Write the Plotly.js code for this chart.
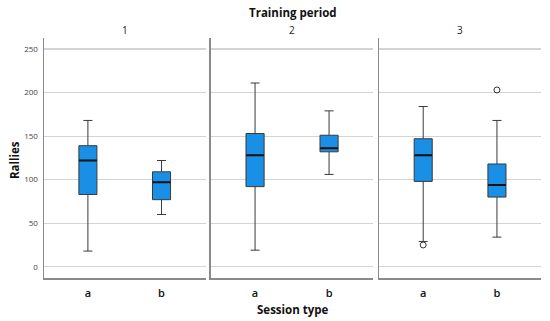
<!DOCTYPE html>
<html>
<head>
<meta charset="utf-8">
<script src="https://cdn.plot.ly/plotly-3.0.1.min.js"></script>
<style>html,body{margin:0;padding:0;background:#fff;}#chart{width:550px;height:321px;}</style>
</head>
<body>
<div id="chart"></div>
<script>
// ---- data ----
const periods = ['1', '2', '3'];
const sessions = ['a', 'b'];
const lowerFence = [[18, 60], [19, 106], [29, 34]];
const q1 = [[83, 77], [92, 132], [98, 80]];
const median = [[122, 97], [128, 136], [128, 94]];
const q3 = [[139, 109], [153, 151], [147, 118]];
const upperFence = [[168, 122], [211, 179], [184, 168]];
const outlierPeriod = ['3', '3'];
const outlierSession = ['a', 'b'];
const outlierValue = [25, 203];

// ---- styles ----
const FONT = 'Open Sans, Noto Sans, sans-serif';
const BOX_FILL = '#1a8fe6';
const BOX_LINE = '#3a3a3a';
const GRID = '#d4d4d4';
const AXLINE = '#8a8a8a';
const domains = [[0.0795, 0.374], [0.383, 0.679], [0.689, 0.984]];

const traces = [];
periods.forEach((p, i) => {
  const xa = i === 0 ? 'x' : 'x' + (i + 1);
  const ya = i === 0 ? 'y' : 'y' + (i + 1);
  traces.push({
    type: 'box', xaxis: xa, yaxis: ya,
    x: sessions,
    q1: q1[i], median: median[i], q3: q3[i],
    lowerfence: lowerFence[i], upperfence: upperFence[i],
    boxpoints: false, width: 0.245, whiskerwidth: 0.5,
    fillcolor: BOX_FILL, line: {color: BOX_LINE, width: 1},
    hoverinfo: 'skip', showlegend: false
  });
  traces.push({
    type: 'scatter', mode: 'markers', xaxis: xa, yaxis: ya,
    x: sessions, y: median[i],
    marker: {symbol: 'line-ew', size: 12.6, line: {color: '#111', width: 2}},
    hoverinfo: 'skip', showlegend: false
  });
  const ox = [], oy = [];
  outlierPeriod.forEach((op, k) => { if (op === p) { ox.push(outlierSession[k]); oy.push(outlierValue[k]); } });
  if (ox.length) {
    traces.push({
      type: 'scatter', mode: 'markers', xaxis: xa, yaxis: ya,
      x: ox, y: oy,
      marker: {symbol: 'circle-open', size: 6, color: '#333', line: {width: 1}},
      hoverinfo: 'skip', showlegend: false
    });
  }
});

const layout = {
  width: 550, height: 321,
  margin: {l: 0, r: 0, t: 0, b: 0},
  paper_bgcolor: '#fff', plot_bgcolor: '#fff',
  font: {family: FONT, color: '#222'},
  showlegend: false,
  annotations: [
    {text: '<b>Training period</b>', xref: 'paper', yref: 'paper', x: 0.532, y: 1 - 12 / 321,
     showarrow: false, font: {size: 11.5, color: '#111'}, xanchor: 'center', yanchor: 'middle'},
    {text: '<b>Session type</b>', xref: 'paper', yref: 'paper', x: 0.532, y: 1 - 309 / 321,
     showarrow: false, font: {size: 11.5, color: '#111'}, xanchor: 'center', yanchor: 'middle'},
    {text: '<b>Rallies</b>', xref: 'paper', yref: 'paper', x: 14 / 550, y: 1 - 160 / 321,
     textangle: -90, showarrow: false, font: {size: 11.5, color: '#111'}, xanchor: 'center', yanchor: 'middle'}
  ]
};
periods.forEach((p, i) => {
  const d = domains[i];
  layout.annotations.push({
    text: p, xref: 'paper', yref: 'paper', x: (d[0] + d[1]) / 2, y: 1 - 30 / 321,
    showarrow: false, font: {size: 10, color: '#222'}, xanchor: 'center', yanchor: 'middle'
  });
  const xk = i === 0 ? 'xaxis' : 'xaxis' + (i + 1);
  const yk = i === 0 ? 'yaxis' : 'yaxis' + (i + 1);
  layout[xk] = {
    domain: d, anchor: i === 0 ? 'y' : 'y' + (i + 1),
    type: 'category', categoryorder: 'array', categoryarray: sessions,
    range: [-0.6, 1.6], showgrid: false, zeroline: false,
    showline: true, linecolor: AXLINE, linewidth: 1.2,
    ticks: '', ticklabelstandoff: 4,
    tickfont: {size: 11, color: '#111', weight: 600}, fixedrange: true
  };
  layout[yk] = {
    domain: [0.133, 0.883], anchor: i === 0 ? 'x' : 'x' + (i + 1),
    range: [-13.3, 263.2], tickvals: [0, 50, 100, 150, 200, 250],
    showgrid: true, gridcolor: GRID, gridwidth: 1.2, zeroline: false,
    showline: true, linecolor: AXLINE, linewidth: 1.2,
    ticks: '', showticklabels: i === 0, tickfont: {size: 8, color: '#444'},
    ticklabelstandoff: 3, fixedrange: true
  };
  if (i > 0) layout[yk].matches = 'y';
});

Plotly.newPlot('chart', traces, layout, {displayModeBar: false, staticPlot: true});
</script>
</body>
</html>
